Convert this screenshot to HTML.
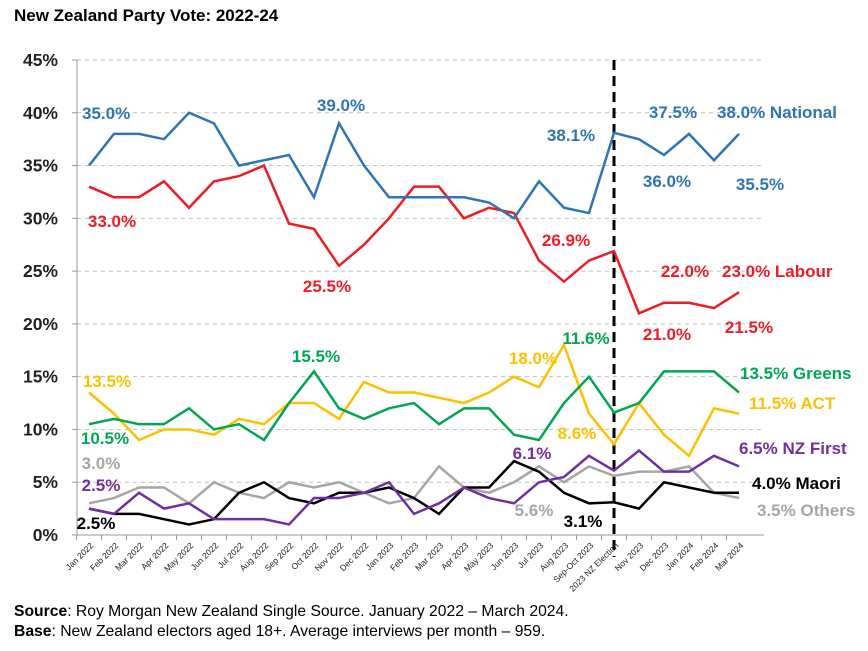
<!DOCTYPE html>
<html><head><meta charset="utf-8"><style>
body{margin:0;background:#fff;font-family:"Liberation Sans",sans-serif;}
#wrap{position:relative;width:868px;height:651px;overflow:hidden;}
.ft{position:absolute;left:14px;font-size:15.7px;color:#000;}
</style></head><body>
<div id="wrap">
<div style="position:absolute;left:14px;top:6px;font-size:17px;font-weight:bold;">New Zealand Party Vote: 2022-24</div>
<svg id="chart" width="868" height="651" style="position:absolute;left:0;top:0"></svg>
<div class="ft" style="top:603px"><b>Source</b>: Roy Morgan New Zealand Single Source. January 2022 – March 2024.</div>
<div class="ft" style="top:623px"><b>Base</b>: New Zealand electors aged 18+. Average interviews per month – 959.</div>
</div>
<script>
const categories=["Jan 2022","Feb 2022","Mar 2022","Apr 2022","May 2022","Jun 2022","Jul 2022","Aug 2022","Sep 2022","Oct 2022","Nov 2022","Dec 2022","Jan 2023","Feb 2023","Mar 2023","Apr 2023","May 2023","Jun 2023","Jul 2023","Aug 2023","Sep-Oct 2023","2023 NZ Election","Nov 2023","Dec 2023","Jan 2024","Feb 2024","Mar 2024"];
const national=[35,38,38,37.5,40,39,35,35.5,36,32,39,35,32,32,32,32,31.5,30,33.5,31,30.5,38.1,37.5,36,38,35.5,38];
const labour=[33,32,32,33.5,31,33.5,34,35,29.5,29,25.5,27.5,30,33,33,30,31,30.5,26,24,26,26.9,21,22,22,21.5,23];
const greens=[10.5,11,10.5,10.5,12,10,10.5,9,12.5,15.5,12,11,12,12.5,10.5,12,12,9.5,9,12.5,15,11.6,12.5,15.5,15.5,15.5,13.5];
const act=[13.5,11.5,9,10,10,9.5,11,10.5,12.5,12.5,11,14.5,13.5,13.5,13,12.5,13.5,15,14,18,11.5,8.6,12.5,9.5,7.5,12,11.5];
const nzfirst=[2.5,2,4,2.5,3,1.5,1.5,1.5,1,3.5,3.5,4,5,2,3,4.5,3.5,3,5,5.5,7.5,6.1,8,6,6,7.5,6.5];
const maori=[2.5,2,2,1.5,1,1.5,4,5,3.5,3,4,4,4.5,3.5,2,4.5,4.5,7,6,4,3,3.1,2.5,5,4.5,4,4];
const others=[3,3.5,4.5,4.5,3,5,4,3.5,5,4.5,5,4,3,3.5,6.5,4.5,4,5,6.5,5,6.5,5.6,6,6,6.5,4,3.5];
const yTicks=[0,5,10,15,20,25,30,35,40,45];
const NS="http://www.w3.org/2000/svg";
const svg=document.getElementById('chart');
const X0=77,X1=764,Y0=535,Y45=60;
const xs=i=>89+i*25;
const ys=v=>Y0-(v/45)*(Y0-Y45);
function mk(t,a){const e=document.createElementNS(NS,t);for(const k in a)e.setAttribute(k,a[k]);svg.appendChild(e);return e;}
yTicks.forEach(t=>{
  if(t>0){const g=mk('line',{x1:X0,x2:X1,y1:ys(t),y2:ys(t),stroke:'#bfbfbf','stroke-width':1,'stroke-dasharray':'4,4'});
  
  }
  const tk=mk('line',{x1:X0-5,x2:X0,y1:ys(t),y2:ys(t),stroke:'#999'});
  
  
  const l=mk('text',{x:58,y:ys(t)+6,'text-anchor':'end','font-size':17.5,'font-weight':'bold',fill:'#222'});
  l.textContent=t+'%';
  
  
});
const ya=mk('line',{x1:X0,x2:X0,y1:Y45,y2:Y0,stroke:'#999'});


const xa=mk('line',{x1:X0,x2:X1,y1:Y0,y2:Y0,stroke:'#999'});


categories.forEach((c,i)=>{
  const tk=mk('line',{x1:xs(i)-12.5,x2:xs(i)-12.5,y1:Y0,y2:Y0+5,stroke:'#999'});
  
  
  const l=mk('text',{x:xs(i)+5,y:Y0+11,'text-anchor':'end','font-size':8.5,fill:'#222',transform:`rotate(-45 ${xs(i)+5} ${Y0+11})`});
  l.textContent=c;
  
  
});
const el=mk('line',{x1:xs(21),x2:xs(21),y1:Y45,y2:Y0+22,stroke:'#000','stroke-width':3,'stroke-dasharray':'10,6'});


const series=[[others,'#a6a6a6','others'],[maori,'#000','maori'],[nzfirst,'#7030a0','nz-first'],[act,'#ffc000','act'],[greens,'#00a650','greens'],[labour,'#ee1c24','labour'],[national,'#2e75b6','national']];
series.forEach(([d,c,n])=>{
  const p=mk('polyline',{points:d.map((v,i)=>xs(i)+','+ys(v)).join(' '),fill:'none',stroke:c,'stroke-width':2.5,'stroke-linejoin':'miter'});
  
  
});
const labels=[
["35.0%",82,119,'#2e75b6','start'],["39.0%",341,111,'#2e75b6','middle'],["38.1%",571,141,'#2e75b6','middle'],["37.5%",673,118,'#2e75b6','middle'],["38.0% National",717,118,'#2e75b6','start'],["36.0%",667,187,'#2e75b6','middle'],["35.5%",760,190,'#2e75b6','middle'],
["33.0%",112,227,'#ee1c24','middle'],["25.5%",327,292,'#ee1c24','middle'],["26.9%",566,246,'#ee1c24','middle'],["22.0%",685,277,'#ee1c24','middle'],["23.0% Labour",722,277,'#ee1c24','start'],["21.0%",667,340,'#ee1c24','middle'],["21.5%",749,333,'#ee1c24','middle'],
["15.5%",316,362,'#00a650','middle'],["10.5%",105,444,'#00a650','middle'],["11.6%",586,344,'#00a650','middle'],["13.5% Greens",740,379,'#00a650','start'],
["13.5%",107,387,'#ffc000','middle'],["18.0%",533,364,'#ffc000','middle'],["8.6%",577,439,'#ffc000','middle'],["11.5% ACT",749,409,'#ffc000','start'],
["3.0%",101,469,'#a6a6a6','middle'],["5.6%",534,516,'#a6a6a6','middle'],["3.5% Others",757,516,'#a6a6a6','start'],
["2.5%",101,491,'#7030a0','middle'],["6.1%",532,459,'#7030a0','middle'],["6.5% NZ First",739,454,'#7030a0','start'],
["2.5%",96,529,'#000','middle'],["3.1%",583,527,'#000','middle'],["4.0% Maori",752,489,'#000','start']];
labels.forEach(([t,x,y,c,a])=>{
  const l=mk('text',{x:x,y:y,'text-anchor':a,'font-size':17,'font-weight':'bold',fill:c});
  l.textContent=t;
  
  
});
</script>
</body></html>
